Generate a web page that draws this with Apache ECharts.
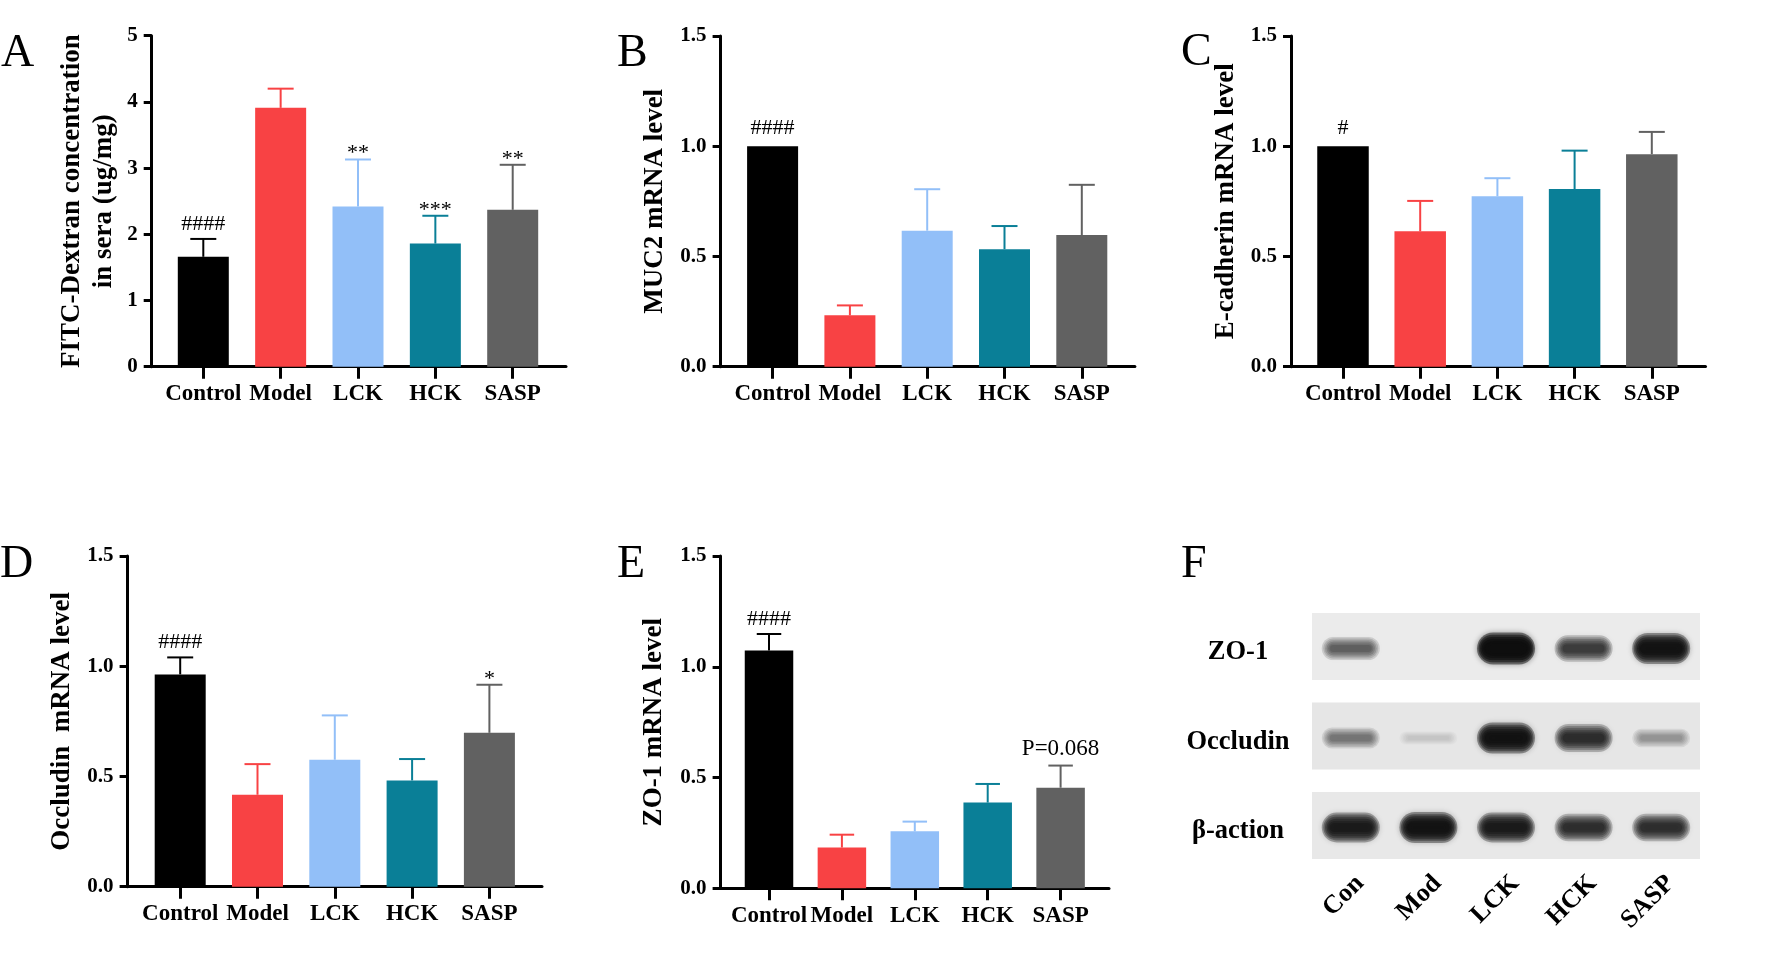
<!DOCTYPE html>
<html><head><meta charset="utf-8">
<script src="https://cdn.jsdelivr.net/npm/echarts@6/dist/echarts.min.js"></script>
<style>html,body{margin:0;padding:0;background:#fff}#c{width:1773px;height:957px}</style>
</head><body><div id="c"></div>
<script>
// ---------------- DATA ----------------
const groups = ['Control', 'Model', 'LCK', 'HCK', 'SASP'];
const groupColors = ['#000000', '#F84244', '#92BFF8', '#0A7F97', '#616161'];

const fitcMean = [1.66, 3.91, 2.42, 1.86, 2.37];
const fitcErrTop = [1.93, 4.20, 3.13, 2.28, 3.05];
const fitcSig = ['####', '', '**', '***', '**'];

const muc2Mean = [1.00, 0.233, 0.617, 0.533, 0.597];
const muc2ErrTop = [null, 0.278, 0.805, 0.638, 0.825];
const muc2Sig = ['####', '', '', '', ''];

const ecadMean = [1.00, 0.614, 0.773, 0.806, 0.964];
const ecadErrTop = [null, 0.752, 0.855, 0.980, 1.065];
const ecadSig = ['#', '', '', '', ''];

const occMean = [0.963, 0.417, 0.576, 0.482, 0.698];
const occErrTop = [1.040, 0.556, 0.777, 0.579, 0.916];
const occSig = ['####', '', '', '', '*'];

const zo1Mean = [1.073, 0.184, 0.257, 0.387, 0.454];
const zo1ErrTop = [1.148, 0.242, 0.301, 0.471, 0.554];
const zo1Sig = ['####', '', '', '', 'P=0.068'];

const blotLanes = ['Con', 'Mod', 'LCK', 'HCK', 'SASP'];
const blotProteins = ['ZO-1', 'Occludin', 'β-action'];
const zo1Band = [0.55, 0.0, 1.0, 0.72, 0.95];
const occBand = [0.45, 0.06, 0.95, 0.8, 0.32];
const actinBand = [0.9, 0.95, 0.9, 0.78, 0.78];

// ---------------- LAYOUT ----------------
const FONT = "'Liberation Serif', 'Times New Roman', serif";
const panels = [
  {mean: fitcMean, err: fitcErrTop, sig: fitcSig, ymax: 5, interval: 1, dec: 0,
   title: 'FITC-Dextran concentration\nin sera (ug/mg)', x0: 151.7, x1: 566, first: 203.3, step: 77.35,
   top: 35.7, bot: 366.7, barW: 51, capW: 26, nameGap: 32},
  {mean: muc2Mean, err: muc2ErrTop, sig: muc2Sig, ymax: 1.5, interval: 0.5, dec: 1,
   title: 'MUC2 mRNA level', x0: 720.6, x1: 1134.9, first: 772.6, step: 77.3,
   top: 36, bot: 366.7, barW: 51, capW: 26, nameGap: 49.6},
  {mean: ecadMean, err: ecadErrTop, sig: ecadSig, ymax: 1.5, interval: 0.5, dec: 1,
   title: 'E-cadherin mRNA level', x0: 1291, x1: 1705.5, first: 1343, step: 77.2,
   top: 36, bot: 366.7, barW: 51.5, capW: 26, nameGap: 49},
  {mean: occMean, err: occErrTop, sig: occSig, ymax: 1.5, interval: 0.5, dec: 1,
   title: 'Occludin  mRNA level', x0: 127.6, x1: 542, first: 180.2, step: 77.3,
   top: 556, bot: 886.7, barW: 51, capW: 26, nameGap: 49.6},
  {mean: zo1Mean, err: zo1ErrTop, sig: zo1Sig, ymax: 1.5, interval: 0.5, dec: 1,
   title: 'ZO-1 mRNA level', x0: 720.6, x1: 1109, first: 769, step: 72.9,
   top: 556, bot: 888.3, barW: 48.5, capW: 24.5, nameGap: 50.8}
];

function sigOffset(s, hasErr) {
  if (s.charAt(0) === 'P') return -5;
  if (s.indexOf('*') >= 0) return 5;
  return hasErr ? -3.7 : -7.2;
}

const grid = [], xAxis = [], yAxis = [], series = [];
const ticks = groups.map((g, i) => i);

panels.forEach((p, i) => {
  grid.push({left: p.x0, top: p.top, width: p.x1 - p.x0, height: p.bot - p.top,
    containLabel: false, outerBoundsMode: 'none'});
  xAxis.push({
    gridIndex: i, type: 'value',
    min: -(p.first - p.x0) / p.step, max: (p.x1 - p.first) / p.step,
    splitLine: {show: false},
    axisLine: {show: true, onZero: false, lineStyle: {color: '#000', width: 3}},
    axisTick: {show: true, customValues: ticks, length: 12, lineStyle: {color: '#000', width: 3}},
    axisLabel: {customValues: ticks, formatter: v => groups[Math.round(v)], margin: 16,
      fontFamily: FONT, fontWeight: 'bold', fontSize: 23, color: '#000'}
  });
  yAxis.push({
    gridIndex: i, type: 'value', min: 0, max: p.ymax, interval: p.interval,
    splitLine: {show: false},
    axisLine: {show: true, onZero: false, lineStyle: {color: '#000', width: 3}},
    axisTick: {show: true, length: 8, lineStyle: {color: '#000', width: 3}},
    axisLabel: {formatter: v => v.toFixed(p.dec), margin: 14, padding: [4, 0, 0, 0],
      fontFamily: FONT, fontWeight: 'bold', fontSize: 21, color: '#000'},
    name: p.title, nameLocation: 'middle', nameGap: p.nameGap,
    nameTextStyle: {fontFamily: FONT, fontWeight: 'bold', fontSize: 27, color: '#000', lineHeight: 32}
  });
  series.push({
    type: 'bar', xAxisIndex: i, yAxisIndex: i, barWidth: p.barW, silent: true,
    data: p.mean.map((v, k) => ({value: [k, v], itemStyle: {color: groupColors[k]}}))
  });
  series.push({
    type: 'custom', xAxisIndex: i, yAxisIndex: i, silent: true, clip: false, z: 3,
    data: p.mean.map((v, k) => [k, v, p.err[k] == null ? v : p.err[k]]),
    renderItem: (params, api) => {
      const k = params.dataIndex;
      const p0 = api.coord([api.value(0), api.value(1)]);
      const p1 = api.coord([api.value(0), api.value(2)]);
      const color = groupColors[k];
      const children = [];
      const hasErr = p1[1] < p0[1] - 0.5;
      if (hasErr) {
        children.push({type: 'line', shape: {x1: p0[0], y1: p0[1], x2: p0[0], y2: p1[1]},
          style: {stroke: color, lineWidth: 2}});
        children.push({type: 'line', shape: {x1: p0[0] - p.capW / 2, y1: p1[1], x2: p0[0] + p.capW / 2, y2: p1[1]},
          style: {stroke: color, lineWidth: 2}});
      }
      const s = p.sig[k];
      if (s) {
        const isP = s.charAt(0) === 'P';
        children.push({type: 'text', x: p0[0], y: p1[1] + sigOffset(s, hasErr),
          style: {text: s, fontFamily: FONT, fontSize: isP ? 23 : 22, fill: '#000',
            align: 'center', verticalAlign: 'bottom'}});
      }
      return {type: 'group', children: children};
    }
  });
});

// ---------------- WESTERN BLOT (panel F) ----------------
const bi = panels.length;
grid.push({left: 1312, top: 601.75, width: 388, height: 268.5, containLabel: false, outerBoundsMode: 'none'});
xAxis.push({gridIndex: bi, type: 'category', data: blotLanes,
  axisLine: {show: false}, axisTick: {show: false}, splitLine: {show: false},
  axisLabel: {rotate: 45, margin: 0, verticalAlign: 'top', fontFamily: FONT, fontWeight: 'bold', fontSize: 26, color: '#000'}});
yAxis.push({gridIndex: bi, type: 'category', data: blotProteins, inverse: true,
  axisLine: {show: false}, axisTick: {show: false}, splitLine: {show: false},
  axisLabel: {align: 'center', verticalAlign: 'top', lineHeight: 12, margin: 74,
    fontFamily: FONT, fontWeight: 'bold', fontSize: 26.5, color: '#000'}});
const blotBg = ['#ebebeb', '#e6e6e6', '#e8e8e8'];
series.push({
  type: 'custom', xAxisIndex: bi, yAxisIndex: bi, silent: true, clip: false, z: 1,
  data: blotProteins.map((n, r) => [0, r]),
  renderItem: (params, api) => {
    const c = api.coord([api.value(0), api.value(1)]);
    const cs = params.coordSys;
    return {type: 'rect', shape: {x: cs.x, y: c[1] - 33.5, width: cs.width, height: 67},
      style: {fill: blotBg[params.dataIndex]}};
  }
});
const bandRows = [zo1Band, occBand, actinBand];
const bandData = [];
bandRows.forEach((row, r) => row.forEach((v, l) => bandData.push([l, r, v])));
series.push({
  type: 'custom', xAxisIndex: bi, yAxisIndex: bi, silent: true, clip: false, z: 2,
  data: bandData,
  renderItem: (params, api) => {
    const c = api.coord([api.value(0), api.value(1)]);
    const I = api.value(2);
    if (I < 0.01) return {type: 'group', children: []};
    const T = 0.08 + 0.9 * I;
    const n = 6;
    const a = 1 - Math.pow(1 - T, 1 / n);
    const hh = 12 + 20 * I;
    const children = [];
    for (let j = 0; j < n; j++) {
      const t = j / (n - 1);
      const w = 58 - 16 * t;
      const h = hh * (1 - 0.7 * t);
      children.push({type: 'rect', shape: {x: c[0] - w / 2, y: c[1] - h / 2 + 2, width: w, height: h, r: h / 2},
        style: {fill: 'rgba(15,15,15,' + a + ')', shadowBlur: 6, shadowColor: 'rgba(15,15,15,' + a + ')'}});
    }
    return {type: 'group', children: children};
  }
});

// ---------------- PANEL LETTERS ----------------
const letters = [['A', 1, 54], ['B', 617, 54], ['C', 1181, 52.5], ['D', 0, 565], ['E', 617, 565], ['F', 1181, 565]];
const graphic = letters.map(l => ({type: 'text', x: l[1], y: l[2], silent: true,
  style: {text: l[0], fontFamily: FONT, fontSize: 46, fill: '#000', align: 'left', verticalAlign: 'middle'}}));

const chart = echarts.init(document.getElementById('c'), null, {renderer: 'canvas'});
chart.setOption({animation: false, backgroundColor: '#fff', grid, xAxis, yAxis, series, graphic});
</script></body></html>
